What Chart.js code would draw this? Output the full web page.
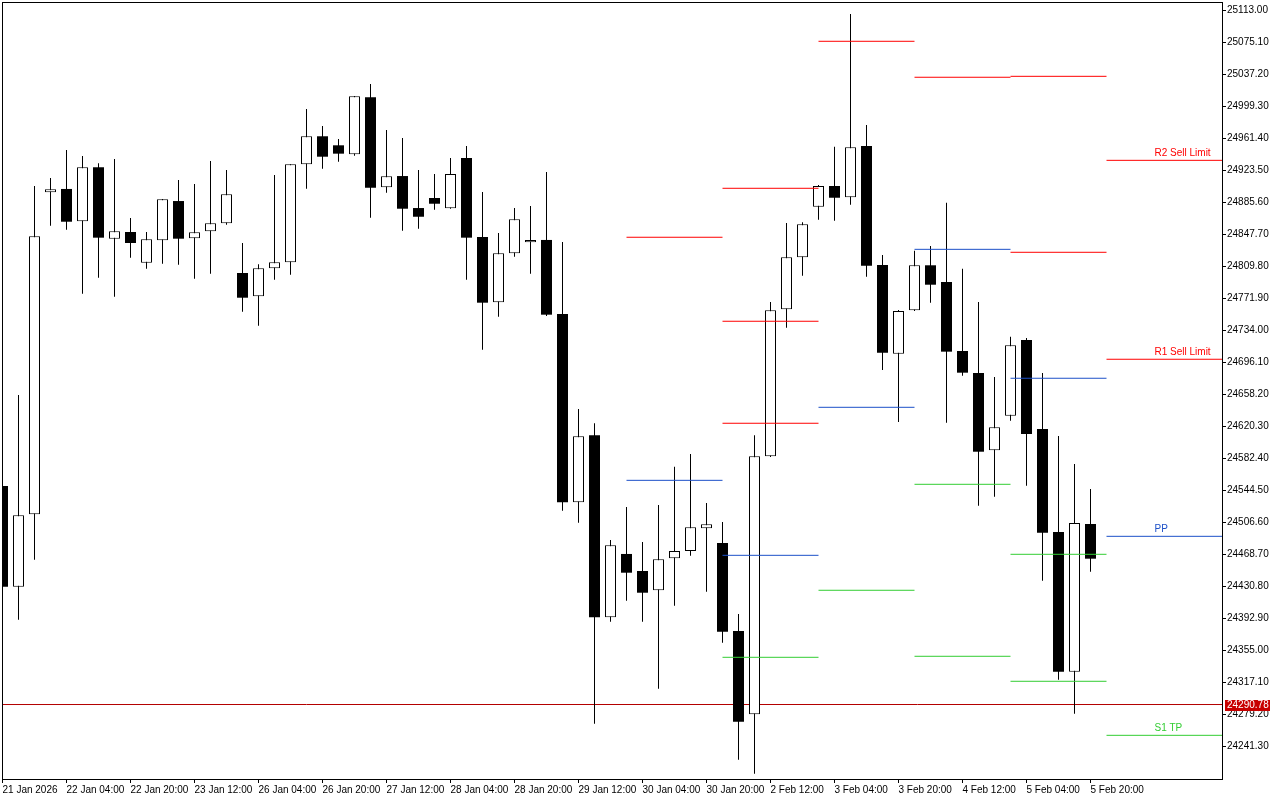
<!DOCTYPE html>
<html>
<head>
<meta charset="utf-8">
<script src="https://cdn.jsdelivr.net/npm/chart.js@4"></script>
<style>
  html, body { margin: 0; padding: 0; background: #fff; }
</style>
</head>
<body>
<canvas id="chart" width="1280" height="800"></canvas>
<script>
// H4 candles, 21 Jan 2026 -> 5 Feb 2026
const opens  = [24549.6,24430.3,24516.1,24897.4,24901.4,24863.1,24927.1,24842.5,24850.4,24814.1,
                24840.6,24887.1,24843.0,24851.3,24860.7,24801.9,24774.3,24807.4,24814.5,24930.6,
                24963.8,24953.1,24942.4,25010.0,24903.4,24916.7,24878.8,24890.7,24878.5,24938.1,
                24844.5,24767.2,24825.2,24838.2,24841.0,24753.3,24530.3,24609.6,24394.1,24469.1,
                24448.9,24426.1,24464.0,24472.6,24499.5,24482.1,24377.9,24279.2,24584.8,24758.9,
                24820.5,24880.4,24904.9,24891.5,24952.3,24811.3,24706.3,24757.7,24811.0,24791.2,
                24709.5,24683.4,24591.9,24632.9,24722.5,24617.1,24495.1,24329.7,24504.6];
const highs  = [24556.0,24657.4,24904.9,24914.4,24947.5,24940.4,24931.8,24936.9,24867.0,24850.4,
                24889.5,24912.0,24907.3,24934.5,24923.9,24837.4,24812.2,24917.9,24930.6,24996.1,
                24976.0,24960.6,25011.5,25025.7,24971.2,24961.8,24923.9,24919.1,24938.1,24952.3,
                24897.8,24849.2,24878.8,24881.2,24921.5,24838.6,24640.8,24623.9,24485.6,24524.7,
                24483.3,24527.1,24572.4,24587.5,24529.5,24507.0,24398.0,24609.6,24767.5,24861.1,
                24862.0,24906.1,24951.5,25108.6,24977.2,24823.2,24758.0,24828.3,24833.8,24885.1,
                24807.0,24767.5,24678.7,24726.4,24724.9,24683.4,24608.8,24575.6,24546.0];
const lows   = [24425.0,24391.2,24462.3,24857.9,24853.1,24777.3,24796.3,24773.8,24820.0,24807.0,
                24812.9,24811.7,24795.1,24801.0,24859.0,24756.0,24739.5,24793.9,24799.9,24901.7,
                24925.4,24933.7,24940.8,24867.4,24897.0,24852.0,24854.3,24876.8,24878.0,24793.9,
                24711.0,24750.1,24821.2,24801.0,24751.0,24520.3,24506.1,24268.1,24388.9,24413.7,
                24388.9,24309.5,24407.8,24467.0,24424.4,24364.0,24225.4,24208.8,24584.0,24737.1,
                24798.7,24865.0,24863.8,24882.8,24797.5,24687.0,24625.4,24757.0,24766.7,24624.6,
                24680.2,24526.3,24536.9,24626.9,24550.0,24437.4,24320.2,24279.9,24448.1];
const closes = [24430.3,24514.9,24845.3,24901.0,24862.6,24927.1,24843.7,24851.3,24837.4,24841.8,
                24889.2,24842.5,24850.1,24860.7,24895.1,24772.6,24807.4,24814.5,24930.6,24963.8,
                24939.6,24943.2,25011.1,24902.9,24916.4,24878.0,24868.5,24883.9,24919.1,24843.7,
                24766.7,24825.2,24865.5,24841.0,24752.5,24530.3,24608.5,24394.1,24479.4,24446.9,
                24423.2,24462.8,24472.6,24500.7,24504.2,24377.0,24270.4,24584.8,24757.7,24820.5,
                24859.5,24904.9,24891.0,24950.7,24810.5,24707.5,24756.9,24811.0,24788.0,24708.7,
                24683.8,24590.2,24619.1,24716.2,24611.2,24494.3,24329.7,24505.8,24463.5];

// time labels, one every 4 bars
const xLabels = ['21 Jan 2026','22 Jan 04:00','22 Jan 20:00','23 Jan 12:00','26 Jan 04:00',
                 '26 Jan 20:00','27 Jan 12:00','28 Jan 04:00','28 Jan 20:00','29 Jan 12:00',
                 '30 Jan 04:00','30 Jan 20:00','2 Feb 12:00','3 Feb 04:00','3 Feb 20:00',
                 '4 Feb 12:00','5 Feb 04:00','5 Feb 20:00'];
const xLabelStep = 4;

// price scale ticks
const yTicks = [25113.00,25075.10,25037.20,24999.30,24961.40,24923.50,24885.60,24847.70,
                24809.80,24771.90,24734.00,24696.10,24658.20,24620.30,24582.40,24544.50,
                24506.60,24468.70,24430.80,24392.90,24355.00,24317.10,24279.20,24241.30];
const yMin = 24202.57, yMax = 25122.83;

// daily pivot segments (bar index from / to)
const segStart = [39, 45, 51, 57, 63, 69];
const segEnd   = [45, 51, 57, 63, 69, 77];
const redLevels   = [[24844.2], [24902.2, 24744.7, 24623.9], [25076.3], [25033.7], [25034.8, 24826.4], [24935.3, 24699.7]];
const blueLevels  = [[24556.3], [24467.5], [24642.8], [24829.9], [24677.2], [24490.0]];
const greenLevels = [[], [24346.7], [24426.1], [24551.6, 24347.9], [24468.7, 24318.3], [24254.3]];

// labels of the current day levels
const levelNames  = ['R2 Sell Limit', 'R1 Sell Limit', 'PP', 'S1 TP'];
const levelValues = [24935.3, 24699.7, 24490.0, 24254.3];
const levelColors = ['#ff0000', '#ff0000', '#1c50c8', '#32cd32'];
const levelLabelBar = 72;

const lastPrice = 24290.78;

const RED = '#ff0000', BLUE = '#1c50c8', GREEN = '#32cd32';
const FONT = "'Liberation Sans', Arial, sans-serif";
const FONT_SIZE = 10;

// armar datasets
const wicks = [], upBodies = [], downBodies = [];
opens.forEach((o, i) => {
  const c = closes[i];
  wicks.push({ x: i, y: [lows[i], highs[i]] });
  if (c >= o) upBodies.push({ x: i, y: [o, c] });
  else downBodies.push({ x: i, y: [c, o] });
});

function segLines(levelsBySeg) {
  const pts = [];
  levelsBySeg.forEach((levels, s) => {
    levels.forEach(v => {
      pts.push({ x: segStart[s], y: v }, { x: segEnd[s], y: v }, { x: segEnd[s], y: null });
    });
  });
  return pts;
}

const lineDefaults = { type: 'line', borderWidth: 1, pointRadius: 0, tension: 0, spanGaps: false, order: 0 };

// marco, etiquetas de niveles y precio actual
const overlay = {
  id: 'overlay',
  afterDraw(chart) {
    const { ctx, chartArea: a } = chart;
    const xs = chart.scales.x, ys = chart.scales.y;
    ctx.save();
    ctx.fillStyle = '#000';
    ctx.fillRect(a.left, a.top, a.right - a.left + 1, 1);
    ctx.fillRect(a.left, a.bottom, a.right - a.left + 1, 1);
    ctx.fillRect(a.left, a.top, 1, a.bottom - a.top);
    ctx.fillRect(a.right, a.top, 1, a.bottom - a.top);

    ctx.font = FONT_SIZE + 'px ' + FONT;
    ctx.textBaseline = 'middle';
    ctx.textAlign = 'left';
    levelNames.forEach((t, i) => {
      ctx.fillStyle = levelColors[i];
      ctx.fillText(t, xs.getPixelForValue(levelLabelBar), ys.getPixelForValue(levelValues[i]) - 7);
    });

    const py = Math.round(ys.getPixelForValue(lastPrice));
    ctx.fillStyle = '#c80000';
    ctx.fillRect(a.right + 3, py - 5, 45, 11);
    ctx.fillStyle = '#fff';
    ctx.fillText(lastPrice.toFixed(2), a.right + 5, py + 0.5);
    ctx.restore();
  }
};

function noPad(s) { s.paddingTop = 0; s.paddingBottom = 0; s.paddingLeft = 0; s.paddingRight = 0; }

new Chart(document.getElementById('chart'), {
  type: 'bar',
  data: {
    datasets: [
      { type: 'line', data: [{ x: -2, y: lastPrice }, { x: 80, y: lastPrice }],
        borderColor: '#b40000', borderWidth: 1, pointRadius: 0, order: 3 },
      { data: wicks, backgroundColor: '#000', borderWidth: 0, grouped: false,
        maxBarThickness: 1, order: 2 },
      { data: upBodies, backgroundColor: '#fff', borderColor: '#000', borderWidth: 1,
        borderSkipped: false, grouped: false, maxBarThickness: 11, order: 1 },
      { data: downBodies, backgroundColor: '#000', borderWidth: 0, grouped: false,
        maxBarThickness: 11, order: 1 },
      { ...lineDefaults, data: segLines(redLevels), borderColor: RED },
      { ...lineDefaults, data: segLines(blueLevels), borderColor: BLUE },
      { ...lineDefaults, data: segLines(greenLevels), borderColor: GREEN }
    ]
  },
  options: {
    responsive: false,
    animation: false,
    events: [],
    layout: { padding: { top: 2, left: 2, right: 0, bottom: 0 } },
    plugins: { legend: { display: false }, tooltip: { enabled: false } },
    scales: {
      x: {
        type: 'linear',
        offset: false,
        min: -1 / 32,
        max: 76.25 - 1 / 32,
        bounds: 'data',
        afterBuildTicks: s => { s.ticks = xLabels.map((_, i) => ({ value: i * xLabelStep })); },
        afterFit: s => { s.height = 21; noPad(s); },
        grid: { drawOnChartArea: false, drawTicks: true, tickLength: 4, color: '#000', offset: false },
        border: { display: false },
        ticks: {
          autoSkip: false, maxRotation: 0, align: 'start', padding: 1,
          color: '#000', font: { family: FONT, size: FONT_SIZE },
          callback: (v, i) => xLabels[i]
        }
      },
      y: {
        position: 'right',
        min: yMin,
        max: yMax,
        bounds: 'data',
        afterBuildTicks: s => { s.ticks = yTicks.map(v => ({ value: v })); },
        afterFit: s => { s.width = 58; noPad(s); },
        grid: { drawOnChartArea: false, drawTicks: true, tickLength: 4, color: '#000' },
        border: { display: false },
        ticks: {
          autoSkip: false, padding: 1,
          color: '#000', font: { family: FONT, size: FONT_SIZE },
          callback: v => Number(v).toFixed(2)
        }
      }
    }
  },
  plugins: [overlay]
});
</script>
</body>
</html>
